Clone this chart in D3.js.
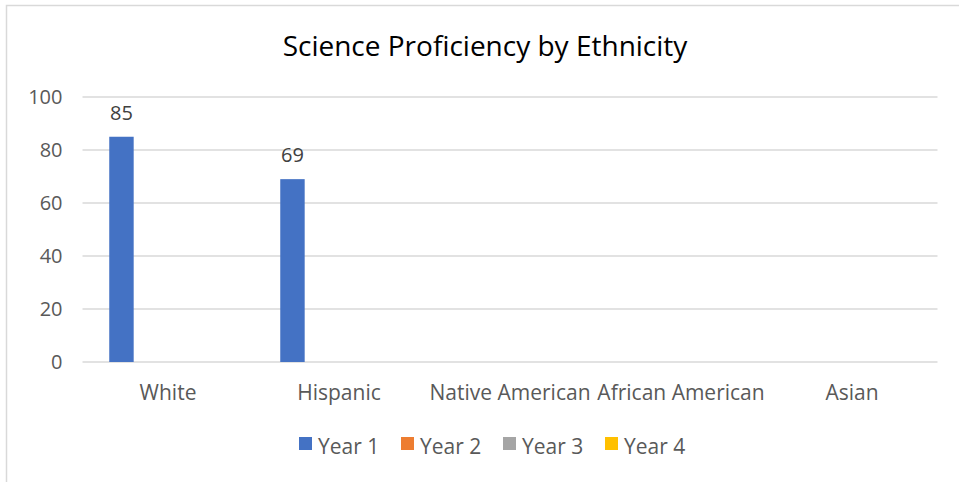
<!DOCTYPE html>
<html>
<head>
<meta charset="utf-8">
<script src="https://cdn.jsdelivr.net/npm/d3@7"></script>
<style>
  body { margin: 0; background: #fff; }
  text { font-family: "Open Sans", sans-serif; }
</style>
</head>
<body>
<div id="chart"></div>
<script>
const categories = ['White', 'Hispanic', 'Native American', 'African American', 'Asian']
const seriesNames = ['Year 1', 'Year 2', 'Year 3', 'Year 4']
const year1 = [85, 69, null, null, null]
const year2 = [null, null, null, null, null]
const year3 = [null, null, null, null, null]
const year4 = [null, null, null, null, null]
const yTicks = [0, 20, 40, 60, 80, 100]
const colors = ['#4472c4', '#ed7d31', '#a5a5a5', '#ffc000']

const WIDTH = 959
const HEIGHT = 482
const MARGIN = { TOP: 97, BOTTOM: 120, LEFT: 82.5, RIGHT: 21.5 }

const svg = d3.select('#chart').append('svg')
  .attr('width', WIDTH)
  .attr('height', HEIGHT)

// chart frame (only top and left visible in the crop)
svg.append('path')
  .attr('d', `M 6.5 ${HEIGHT} V 5.5 H ${WIDTH}`)
  .style('fill', 'none')
  .style('stroke', '#d9d9d9')
  .style('stroke-width', 1.5)

svg.append('text')
  .attr('x', 485)
  .attr('y', 56)
  .attr('text-anchor', 'middle')
  .style('font-size', '28px')
  .style('fill', '#000')
  .text('Science Proficiency by Ethnicity')

const plotW = WIDTH - MARGIN.LEFT - MARGIN.RIGHT
const plotH = HEIGHT - MARGIN.TOP - MARGIN.BOTTOM

const g = svg.append('g')
  .attr('transform', `translate(${MARGIN.LEFT}, ${MARGIN.TOP})`)

const x0 = d3.scaleBand().domain(categories).range([0, plotW])
const step = x0.bandwidth()
const barW = step / 7 // gap width 219%, overlap -27%
const x1 = d3.scaleBand()
  .domain(seriesNames)
  .range([barW * 1.095, step - barW * 1.095])
  .paddingInner(0.27 / 1.27)
const y = d3.scaleLinear().domain([0, 100]).range([plotH, 0])

// gridlines
g.selectAll('.grid')
  .data(yTicks)
  .enter()
  .append('line')
  .attr('x1', 0)
  .attr('x2', plotW)
  .attr('y1', d => y(d))
  .attr('y2', d => y(d))
  .style('stroke', '#d9d9d9')
  .style('stroke-width', 1.5)

// y axis labels
g.append('g')
  .call(d3.axisLeft(y).tickValues(yTicks).tickSize(0).tickPadding(20))
  .call(a => a.select('.domain').remove())
  .selectAll('text')
  .style('font-size', '20px')
  .style('font-family', '"Open Sans", sans-serif')
  .style('fill', '#595959')

// x axis labels
g.append('g')
  .attr('transform', `translate(0, ${plotH})`)
  .call(d3.axisBottom(x0).tickSize(0).tickPadding(23))
  .call(a => a.select('.domain').remove())
  .selectAll('text')
  .style('font-size', '21px')
  .style('font-family', '"Open Sans", sans-serif')
  .style('fill', '#595959')

const allSeries = [year1, year2, year3, year4]
const flat = []
allSeries.forEach((vals, si) => {
  vals.forEach((v, ci) => {
    if (v !== null) flat.push({ cat: categories[ci], s: seriesNames[si], v: v, si: si })
  })
})

g.selectAll('.bar')
  .data(flat)
  .enter()
  .append('rect')
  .attr('x', d => x0(d.cat) + x1(d.s))
  .attr('y', d => y(d.v))
  .attr('width', x1.bandwidth())
  .attr('height', d => plotH - y(d.v))
  .style('fill', d => colors[d.si])

g.selectAll('.lbl')
  .data(flat)
  .enter()
  .append('text')
  .attr('x', d => x0(d.cat) + x1(d.s) + x1.bandwidth() / 2)
  .attr('y', d => y(d.v) - 17)
  .attr('text-anchor', 'middle')
  .style('font-size', '20px')
  .style('fill', '#404040')
  .text(d => d.v)

// legend
const legend = svg.append('g').attr('transform', 'translate(299, 437)')
const item = legend.selectAll('.item')
  .data(seriesNames)
  .enter()
  .append('g')
  .attr('transform', (d, i) => `translate(${i * 102}, 0)`)
item.append('rect')
  .attr('width', 13)
  .attr('height', 13)
  .style('fill', (d, i) => colors[i])
item.append('text')
  .attr('x', 19)
  .attr('y', 16.5)
  .style('font-size', '21px')
  .style('fill', '#595959')
  .text(d => d)
</script>
</body>
</html>
